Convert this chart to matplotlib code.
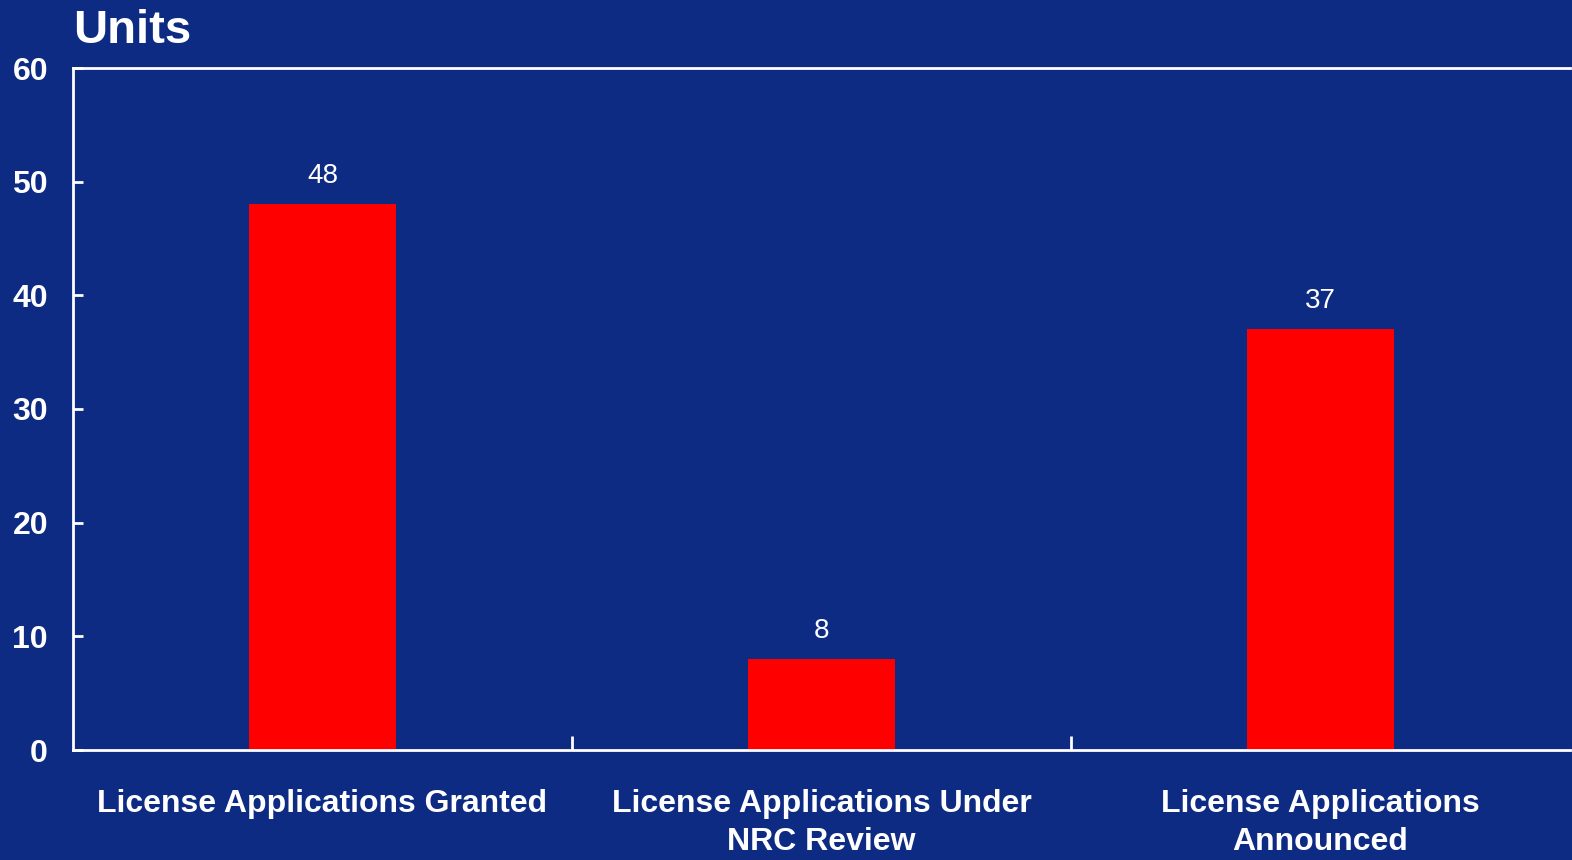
import matplotlib
matplotlib.use("Agg")
import matplotlib.pyplot as plt

categories = ["License Applications Granted",
              "License Applications Under\nNRC Review",
              "License Applications\nAnnounced"]
values = [48, 8, 37]
yticks = [0, 10, 20, 30, 40, 50, 60]

BG = "#0E2B84"
plt.rcParams['font.family'] = ['Liberation Sans', 'DejaVu Sans']

fig = plt.figure(figsize=(15.72, 8.6), dpi=100, facecolor=BG)
ax = fig.add_axes([73/1572, 110/860, 1497/1572, 682/860])
ax.set_facecolor(BG)

x = list(range(len(categories)))
bars = ax.bar(x, values, width=0.293, color="#FF0000", zorder=2)
for xi, v in zip(x, values):
    ax.annotate(str(v), (xi, v), xytext=(0, 11), textcoords="offset points",
                ha="center", va="bottom", color="white", fontsize=20)

ax.set_xlim(-0.5, 2.5)
ax.set_ylim(0, 60)
ax.set_yticks(yticks)
ax.set_yticklabels([str(t) for t in yticks], fontsize=23, fontweight="bold", color="white")
ax.tick_params(axis="y", direction="in", length=7, width=2, color="white", pad=18)

ax.set_xticks(x)
ax.set_xticklabels(categories, fontsize=23, fontweight="bold", color="white", linespacing=1.35)
ax.tick_params(axis="x", which="major", length=0, pad=28)
ax.set_xticks([0.5, 1.5], minor=True)
ax.tick_params(axis="x", which="minor", direction="in", length=10, width=2, color="white")

for s in ["left", "top", "bottom"]:
    ax.spines[s].set_color("white")
    ax.spines[s].set_linewidth(2)
ax.spines["right"].set_visible(False)

fig.text(73/1572, (860-43)/860, "Units", fontsize=34, fontweight="bold", color="white",
         ha="left", va="baseline")

fig.savefig("out.png", dpi=100, facecolor=BG)
